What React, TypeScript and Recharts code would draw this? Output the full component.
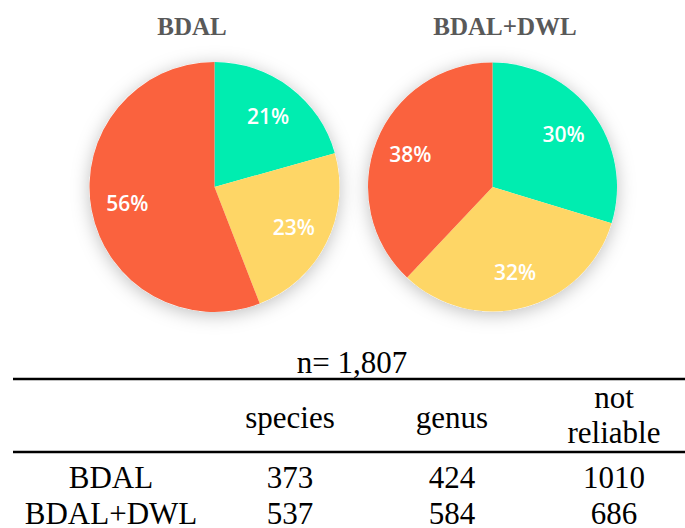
import { Cell, Pie, PieChart } from 'recharts'

const categories = ['species', 'genus', 'not reliable']
const bdalCounts = [373, 424, 1010]
const bdalDwlCounts = [537, 584, 686]
const methods = ['BDAL', 'BDAL+DWL']
const totalLabel = 'n= 1,807'

const COLORS = ['#00EDB0', '#FED666', '#FA623E']
const SERIF = '"Liberation Serif", "Times New Roman", serif'

const toData = (counts: number[]) => categories.map((name, i) => ({ name, value: counts[i] }))
const bdalData = toData(bdalCounts)
const bdalDwlData = toData(bdalDwlCounts)
const backing = [{ name: 'all', value: 1 }]

const RAD = Math.PI / 180

function PercentLabel(props: any) {
  const { cx, cy, midAngle, outerRadius, percent } = props
  const r = outerRadius * 0.71
  const x = cx + r * Math.cos(-midAngle * RAD)
  const y = cy + r * Math.sin(-midAngle * RAD)
  return (
    <text
      x={x}
      y={y}
      fill="#fff"
      textAnchor="middle"
      dominantBaseline="central"
      style={{ fontFamily: '"Open Sans", sans-serif', fontWeight: 600, fontSize: 21 }}
    >
      {`${Math.round(percent * 100)}%`}
    </text>
  )
}

// recharts adds its 5px default margin to numeric cx/cy
const CY = 182

function Pies() {
  const pies = [
    { data: bdalData, cx: 209.5, r: 125 },
    { data: bdalDwlData, cx: 487.5, r: 124.5 },
  ]
  return (
    <PieChart width={685} height={340}>
      <defs>
        <filter id="halo" x="-30%" y="-30%" width="160%" height="160%">
          <feDropShadow dx="0" dy="3" stdDeviation="9" floodColor="#000" floodOpacity="0.25" />
        </filter>
      </defs>
      {pies.map((p, k) => (
        <Pie
          key={`b${k}`}
          data={backing}
          dataKey="value"
          cx={p.cx}
          cy={CY}
          outerRadius={p.r}
          stroke="none"
          fill="#fff"
          filter="url(#halo)"
          isAnimationActive={false}
        />
      ))}
      {pies.map((p, k) => (
        <Pie
          key={`p${k}`}
          data={p.data}
          dataKey="value"
          cx={p.cx}
          cy={CY}
          outerRadius={p.r}
          startAngle={90}
          endAngle={-270}
          stroke="none"
          label={PercentLabel}
          labelLine={false}
          isAnimationActive={false}
        >
          {p.data.map((d, i) => (
            <Cell key={d.name} fill={COLORS[i]} />
          ))}
        </Pie>
      ))}
    </PieChart>
  )
}

function Table() {
  const colX = [290, 452, 614]
  const rows = [bdalCounts, bdalDwlCounts]
  const rowY = [488, 524]
  const txt = { fontFamily: SERIF, fontSize: 31, fill: '#000' }
  return (
    <svg width={685} height={188} viewBox="0 340 685 188" style={{ position: 'absolute', left: 0, top: 340 }}>
      <text x={352} y={373} textAnchor="middle" style={txt}>
        {totalLabel}
      </text>
      <line x1={13} x2={685} y1={379} y2={379} stroke="#000" strokeWidth={2.5} />
      {categories.map((c, i) => {
        const parts = c.split(' ')
        if (parts.length === 1) {
          return (
            <text key={c} x={colX[i]} y={428} textAnchor="middle" style={txt}>
              {c}
            </text>
          )
        }
        return (
          <text key={c} x={colX[i]} textAnchor="middle" style={txt}>
            <tspan x={colX[i]} y={408}>{parts[0]}</tspan>
            <tspan x={colX[i]} y={443}>{parts[1]}</tspan>
          </text>
        )
      })}
      <line x1={13} x2={685} y1={452} y2={452} stroke="#000" strokeWidth={2.5} />
      {rows.map((vals, r) => (
        <g key={methods[r]}>
          <text x={111} y={rowY[r]} textAnchor="middle" style={txt}>
            {methods[r]}
          </text>
          {vals.map((v, i) => (
            <text key={i} x={colX[i]} y={rowY[r]} textAnchor="middle" style={txt}>
              {v}
            </text>
          ))}
        </g>
      ))}
    </svg>
  )
}

export default function App() {
  const titleStyle = {
    position: 'absolute' as const,
    top: 0,
    fontFamily: SERIF,
    fontWeight: 700,
    fontSize: 25,
    color: '#595959',
    lineHeight: '42px',
    transform: 'translateX(-50%)',
    whiteSpace: 'nowrap' as const,
  }
  return (
    <div style={{ position: 'absolute', left: 0, top: 0, width: 685, height: 528, background: '#fff', overflow: 'hidden' }}>
      <div style={{ position: 'absolute', left: 0, top: 0 }}>
        <Pies />
      </div>
      <div style={{ ...titleStyle, left: 192, top: 6 }}>{methods[0]}</div>
      <div style={{ ...titleStyle, left: 505, top: 6 }}>{methods[1]}</div>
      <Table />
    </div>
  )
}
